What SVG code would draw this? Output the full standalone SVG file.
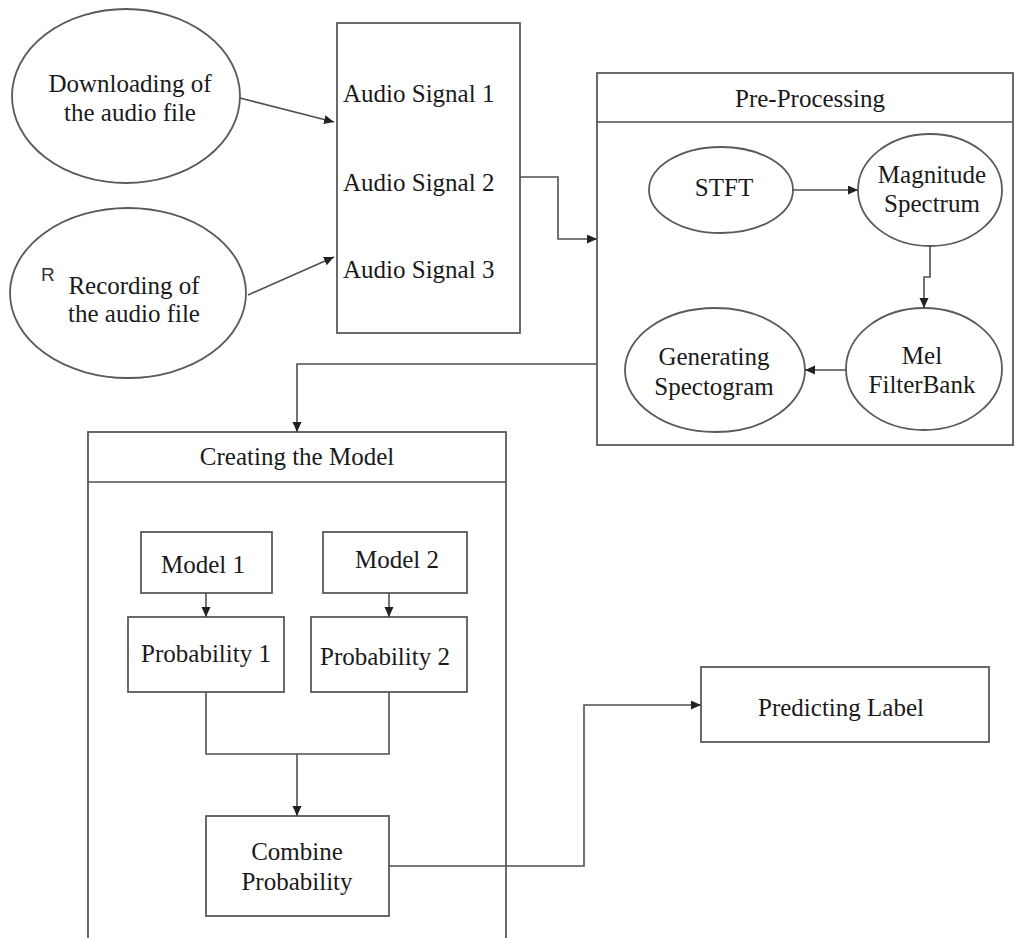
<svg xmlns="http://www.w3.org/2000/svg" width="1015" height="938" viewBox="0 0 1015 938">
<defs>
<style>
.s{fill:#fff;stroke:#5a5a5a;stroke-width:1.8}
.c{fill:none;stroke:#505050;stroke-width:1.6}
.t{font-family:"Liberation Serif","Times New Roman",serif;font-size:25px;fill:#1a1a1a}
.m{text-anchor:middle}
</style>
<marker id="ah" markerUnits="userSpaceOnUse" markerWidth="11" markerHeight="10" refX="10" refY="4.5" orient="auto">
<path d="M0,0 L10,4.5 L0,9 Z" fill="#222"/>
</marker>
</defs>
<rect width="1015" height="938" fill="#fff"/>

<g id="download">
<ellipse class="s" cx="126" cy="96" rx="114" ry="87"/>
<text class="t m" x="130" y="92">Downloading of</text>
<text class="t m" x="130" y="121">the audio file</text>
</g>

<g id="record">
<ellipse class="s" cx="128" cy="293" rx="118" ry="85"/>
<text x="41" y="281" style="font-family:'Liberation Sans',Arial,sans-serif;font-size:19px;fill:#333">R</text>
<text class="t m" x="134" y="294">Recording of</text>
<text class="t m" x="134" y="322">the audio file</text>
</g>

<g id="audio">
<rect class="s" x="337" y="23" width="183" height="310"/>
<text class="t" x="343" y="102">Audio Signal 1</text>
<text class="t" x="343" y="191">Audio Signal 2</text>
<text class="t" x="343" y="278">Audio Signal 3</text>
</g>

<g id="preprocessing">
<rect class="s" x="597" y="73" width="416" height="372"/>
<line class="c" x1="597" y1="122" x2="1013" y2="122"/>
<text class="t m" x="810" y="107">Pre-Processing</text>
</g>

<g id="stft">
<ellipse class="s" cx="721" cy="190" rx="72" ry="43"/>
<text class="t m" x="724" y="196">STFT</text>
</g>

<g id="magnitude">
<ellipse class="s" cx="930" cy="190" rx="72" ry="56"/>
<text class="t m" x="932" y="183">Magnitude</text>
<text class="t m" x="932" y="212">Spectrum</text>
</g>

<g id="mel">
<ellipse class="s" cx="924" cy="369" rx="78" ry="61"/>
<text class="t m" x="922" y="364">Mel</text>
<text class="t m" x="922" y="393">FilterBank</text>
</g>

<g id="generating">
<ellipse class="s" cx="715" cy="370" rx="90" ry="62"/>
<text class="t m" x="714" y="365">Generating</text>
<text class="t m" x="714" y="395">Spectogram</text>
</g>

<g id="creating">
<rect class="s" x="88" y="432" width="418" height="520"/>
<line class="c" x1="88" y1="482" x2="506" y2="482"/>
<text class="t m" x="297" y="465">Creating the Model</text>
</g>

<g id="model1">
<rect class="s" x="141" y="532" width="131" height="61"/>
<text class="t m" x="203" y="573">Model 1</text>
</g>

<g id="model2">
<rect class="s" x="323" y="532" width="144" height="61"/>
<text class="t m" x="397" y="568">Model 2</text>
</g>

<g id="prob1">
<rect class="s" x="128" y="617" width="156" height="75"/>
<text class="t m" x="206" y="662">Probability 1</text>
</g>

<g id="prob2">
<rect class="s" x="311" y="617" width="156" height="75"/>
<text class="t m" x="385" y="665">Probability 2</text>
</g>

<g id="combine">
<rect class="s" x="206" y="816" width="183" height="100"/>
<text class="t m" x="297" y="860">Combine</text>
<text class="t m" x="297" y="890">Probability</text>
</g>

<g id="predicting">
<rect class="s" x="701" y="667" width="288" height="75"/>
<text class="t m" x="841" y="716">Predicting Label</text>
</g>

<g id="connectors">
<path class="c" d="M240,98 L334,122" marker-end="url(#ah)"/>
<path class="c" d="M248,295 L334,257" marker-end="url(#ah)"/>
<path class="c" d="M520,177 H558 V239 H597" marker-end="url(#ah)"/>
<path class="c" d="M793,190 H858" marker-end="url(#ah)"/>
<path class="c" d="M930,246 V277 H924 V308" marker-end="url(#ah)"/>
<path class="c" d="M846,370 H805" marker-end="url(#ah)"/>
<path class="c" d="M597,364 H297 V432" marker-end="url(#ah)"/>
<path class="c" d="M206,593 V617" marker-end="url(#ah)"/>
<path class="c" d="M389,593 V617" marker-end="url(#ah)"/>
<path class="c" d="M206,692 V754 H389 V692"/>
<path class="c" d="M297,754 V816" marker-end="url(#ah)"/>
<path class="c" d="M389,866 H584 V705 H701" marker-end="url(#ah)"/>
</g>
</svg>
